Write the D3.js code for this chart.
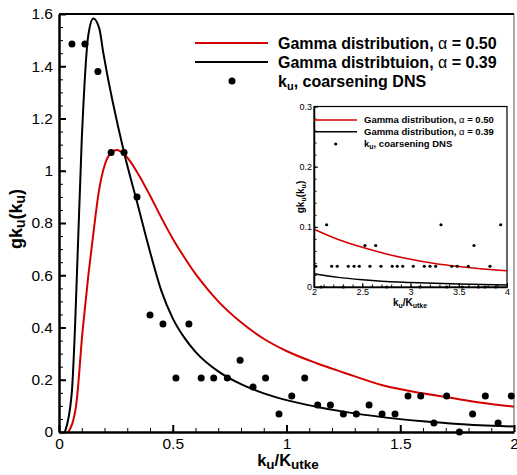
<!DOCTYPE html>
<html>
<head>
<meta charset="utf-8">
<title>gk_u distribution</title>
<script src="https://cdn.jsdelivr.net/npm/d3@7"></script>
<style>
  body { margin: 0; background: #fff; }
  svg { font-family: "Liberation Sans", Arial, sans-serif; }
  .axis path, .axis line { stroke: #000; }
</style>
</head>
<body>
<div id="chart"></div>
<script>
// coarsening DNS histogram, main panel
var dnsX = [0.057, 0.114, 0.171, 0.229, 0.286, 0.343, 0.400, 0.457, 0.514, 0.571,
            0.625, 0.680, 0.740, 0.796, 0.853, 0.908, 0.967, 1.023, 1.080, 1.137,
            1.193, 1.250, 1.307, 1.363, 1.420, 1.477, 1.534, 1.590, 1.648, 1.704,
            1.760, 1.818, 1.874, 1.930, 1.988];
var dnsY = [1.485, 1.485, 1.38, 1.07, 1.07, 0.90, 0.448, 0.413, 0.207, 0.413,
            0.207, 0.207, 0.207, 0.275, 0.172, 0.207, 0.069, 0.138, 0.207, 0.103,
            0.103, 0.069, 0.069, 0.103, 0.069, 0.069, 0.138, 0.138, 0.034, 0.138,
            0, 0.069, 0.138, 0.034, 0.138];

// gamma curves
var redX = [0.041, 0.075, 0.104, 0.129, 0.151, 0.175, 0.202, 0.225, 0.254, 0.29,
            0.35, 0.40, 0.45, 0.50, 0.55, 0.60, 0.65, 0.70, 0.80, 0.90,
            1.0, 1.133, 1.25, 1.426, 1.6, 1.72, 1.85, 2.0];
var redY = [0, 0.10, 0.39, 0.60, 0.76, 0.92, 1.025, 1.065, 1.079, 1.06,
            0.985, 0.905, 0.82, 0.74, 0.67, 0.605, 0.55, 0.50, 0.42, 0.357,
            0.31, 0.263, 0.228, 0.178, 0.148, 0.131, 0.113, 0.097];
var blackX = [0.026, 0.056, 0.07, 0.10, 0.129, 0.151, 0.177, 0.195, 0.286, 0.343,
              0.40, 0.45, 0.50, 0.55, 0.60, 0.70, 0.80, 0.90, 1.0, 1.13,
              1.25, 1.43, 1.6, 1.72, 1.85, 2.0];
var blackY = [0, 0.148, 0.39, 1.12, 1.52, 1.583, 1.545, 1.45, 1.07, 0.88,
              0.69, 0.54, 0.435, 0.362, 0.307, 0.232, 0.183, 0.148, 0.122, 0.097,
              0.078, 0.056, 0.041, 0.033, 0.026, 0.021];

// inset panel (2..4)
var inDnsX = [2.018, 2.073, 2.131, 2.183, 2.241, 2.304, 2.355, 2.415, 2.469, 2.528,
              2.580, 2.639, 2.694, 2.753, 2.811, 2.863, 2.919, 3.029, 3.098, 3.143,
              3.202, 3.261, 3.316, 3.375, 3.427, 3.485, 3.537, 3.599, 3.658, 3.703,
              3.772, 3.824, 3.883, 3.935];
var inDnsY = [0.0345, 0, 0.1035, 0.0345, 0.0345, 0, 0.0345, 0.0345, 0.0345, 0.069,
              0.0345, 0.069, 0.0345, 0, 0.0345, 0.0345, 0.0345, 0.0345, 0, 0.0345,
              0.0345, 0.0345, 0.1035, 0, 0.0345, 0.0345, 0, 0.0345, 0.069, 0,
              0, 0.0345, 0, 0.1035];
var inRedX = [2.0, 2.25, 2.5, 2.75, 3.0, 3.25, 3.5, 3.75, 4.0];
var inRedY = [0.096, 0.079, 0.066, 0.055, 0.046, 0.039, 0.034, 0.030, 0.027];
var inBlackX = [2.0, 2.25, 2.5, 2.75, 3.0, 3.5, 4.0];
var inBlackY = [0.022, 0.016, 0.012, 0.009, 0.0075, 0.005, 0.0035];

var xTicks = [0, 0.5, 1, 1.5, 2];
var yTicks = [0, 0.2, 0.4, 0.6, 0.8, 1, 1.2, 1.4, 1.6];
var inXTicks = [2, 2.5, 3, 3.5, 4];
var inYTicks = [0, 0.1, 0.2, 0.3];

var legendText = ["Gamma distribution, ", "Gamma distribtuion, "];
var legendAlpha = ["0.50", "0.39"];
var inLegendText = ["Gamma distribution, ", "Gamma distribution, "];

var W = 517, H = 475;
var red = "#d40000";

var svg = d3.select("#chart").append("svg")
    .attr("width", W).attr("height", H);

var x = d3.scaleLinear().domain([0, 2]).range([59, 514]);
var y = d3.scaleLinear().domain([0, 1.6]).range([432, 14]);

function pts(xs, ys) { return xs.map(function(v, i) { return [v, ys[i]]; }); }

svg.append("clipPath").attr("id", "clipMain")
  .append("rect").attr("x", 59).attr("y", 14).attr("width", 455).attr("height", 418);

var line = d3.line()
    .x(function(d) { return x(d[0]); })
    .y(function(d) { return y(d[1]); })
    .curve(d3.curveMonotoneX);

var plot = svg.append("g").attr("clip-path", "url(#clipMain)");
plot.append("path").datum(pts(redX, redY))
    .attr("d", line).attr("fill", "none").attr("stroke", red).attr("stroke-width", 2);
plot.append("path").datum(pts(blackX, blackY))
    .attr("d", line).attr("fill", "none").attr("stroke", "#000").attr("stroke-width", 2);

// frame top / right
svg.append("line").attr("x1", 59).attr("x2", 514).attr("y1", 14).attr("y2", 14)
    .attr("stroke", "#000").attr("stroke-width", 2);
svg.append("line").attr("x1", 514).attr("x2", 514).attr("y1", 14).attr("y2", 432)
    .attr("stroke", "#555").attr("stroke-width", 1);

// axes, ticks pointing inwards
var fmt = function(d) { return String(+d.toFixed(2)); };

svg.append("g").attr("class", "axis").attr("transform", "translate(59,0)")
    .call(d3.axisLeft(y).tickValues(d3.range(0, 1.601, 0.05)).tickSize(-4).tickFormat(""))
    .call(function(g) { g.select(".domain").remove(); });
svg.append("g").attr("class", "axis").attr("transform", "translate(0,432)")
    .call(d3.axisBottom(x).tickValues(d3.range(0, 2.001, 0.1)).tickSize(-4).tickFormat(""))
    .call(function(g) { g.select(".domain").remove(); });

var gy = svg.append("g").attr("class", "axis").attr("transform", "translate(59,0)")
    .call(d3.axisLeft(y).tickValues(yTicks).tickSize(-7).tickSizeOuter(0).tickPadding(6).tickFormat(fmt));
var gx = svg.append("g").attr("class", "axis").attr("transform", "translate(0,432)")
    .call(d3.axisBottom(x).tickValues(xTicks).tickSize(-7).tickSizeOuter(0).tickPadding(6).tickFormat(fmt));
[gy, gx].forEach(function(g) {
  g.select(".domain").attr("stroke-width", 2.5);
  g.selectAll(".tick line").attr("stroke-width", 2);
  g.selectAll("text").attr("font-size", 15.5).attr("font-family", "Liberation Sans, Arial, sans-serif").attr("fill", "#000");
});

// DNS dots
svg.append("g").selectAll("circle")
  .data(pts(dnsX, dnsY))
  .enter().append("circle")
    .attr("cx", function(d) { return x(d[0]); })
    .attr("cy", function(d) { return y(d[1]); })
    .attr("r", 3.5)
    .attr("fill", "#000");

// axis titles
var xt = svg.append("text").attr("x", 288).attr("y", 466)
    .attr("text-anchor", "middle").attr("font-weight", "bold").attr("font-size", 16.5);
xt.append("tspan").text("k");
xt.append("tspan").attr("font-size", 13.5).attr("dy", 3).text("u");
xt.append("tspan").attr("dy", -3).text("/K");
xt.append("tspan").attr("font-size", 13.5).attr("dy", 3).text("utke");

var yt = svg.append("text").attr("transform", "translate(22,219) rotate(-90)")
    .attr("text-anchor", "middle").attr("font-weight", "bold").attr("font-size", 18);
yt.append("tspan").text("gk");
yt.append("tspan").attr("font-size", 14).attr("dy", 3).text("u");
yt.append("tspan").attr("dy", -3).text("(k");
yt.append("tspan").attr("font-size", 14).attr("dy", 3).text("u");
yt.append("tspan").attr("dy", -3).text(")");

// main legend
var lg = svg.append("g");
[red, "#000"].forEach(function(c, i) {
  var ly = 43 + i * 19;
  lg.append("line").attr("x1", 195).attr("x2", 268).attr("y1", ly).attr("y2", ly)
      .attr("stroke", c).attr("stroke-width", 2);
  var t = lg.append("text").attr("x", 278).attr("y", ly + 5.5)
      .attr("font-weight", "bold").attr("font-size", 16);
  t.append("tspan").text(legendText[i]);
  t.append("tspan").attr("font-weight", "normal").text("\u03b1");
  t.append("tspan").text(" = " + legendAlpha[i]);
});
lg.append("circle").attr("cx", 232).attr("cy", 81).attr("r", 3.5).attr("fill", "#000");
var lt = lg.append("text").attr("x", 278).attr("y", 86.5).attr("font-weight", "bold").attr("font-size", 16);
lt.append("tspan").text("k");
lt.append("tspan").attr("font-size", 11).attr("dy", 3).text("u");
lt.append("tspan").attr("dy", -3).text(", coarsening DNS");

// ---- inset ----
var ix = d3.scaleLinear().domain([2, 4]).range([314, 507]);
var iy = d3.scaleLinear().domain([0, 0.3]).range([287, 106.5]);
var ins = svg.append("g");

ins.append("rect").attr("x", 314).attr("y", 106.5).attr("width", 193).attr("height", 180.5)
    .attr("fill", "#fff").attr("stroke", "#000").attr("stroke-width", 1.2);

var iline = d3.line()
    .x(function(d) { return ix(d[0]); })
    .y(function(d) { return iy(d[1]); })
    .curve(d3.curveMonotoneX);
ins.append("path").datum(pts(inRedX, inRedY))
    .attr("d", iline).attr("fill", "none").attr("stroke", red).attr("stroke-width", 1.5);
ins.append("path").datum(pts(inBlackX, inBlackY))
    .attr("d", iline).attr("fill", "none").attr("stroke", "#000").attr("stroke-width", 1.5);

ins.append("g").attr("class", "axis").attr("transform", "translate(314,0)")
    .call(d3.axisLeft(iy).tickValues(d3.range(0, 0.301, 0.02)).tickSize(-2.5).tickFormat(""))
    .call(function(g) { g.select(".domain").remove(); });
ins.append("g").attr("class", "axis").attr("transform", "translate(0,287)")
    .call(d3.axisBottom(ix).tickValues(d3.range(2, 4.001, 0.1)).tickSize(-2.5).tickFormat(""))
    .call(function(g) { g.select(".domain").remove(); });
var igy = ins.append("g").attr("class", "axis").attr("transform", "translate(314,0)")
    .call(d3.axisLeft(iy).tickValues(inYTicks).tickSize(-4).tickSizeOuter(0).tickPadding(2).tickFormat(fmt));
var igx = ins.append("g").attr("class", "axis").attr("transform", "translate(0,287)")
    .call(d3.axisBottom(ix).tickValues(inXTicks).tickSize(-4).tickSizeOuter(0).tickPadding(2).tickFormat(fmt));
[igy, igx].forEach(function(g) {
  g.select(".domain").attr("stroke-width", 1.5);
  g.selectAll("text").attr("font-size", 9).attr("font-family", "Liberation Sans, Arial, sans-serif").attr("fill", "#000");
});

ins.append("g").selectAll("circle")
  .data(pts(inDnsX, inDnsY))
  .enter().append("circle")
    .attr("cx", function(d) { return ix(d[0]); })
    .attr("cy", function(d) { return iy(d[1]); })
    .attr("r", 1.6)
    .attr("fill", "#000");

var ixt = ins.append("text").attr("x", 410).attr("y", 306)
    .attr("text-anchor", "middle").attr("font-weight", "bold").attr("font-size", 10);
ixt.append("tspan").text("k");
ixt.append("tspan").attr("font-size", 7).attr("dy", 2).text("u");
ixt.append("tspan").attr("dy", -2).text("/K");
ixt.append("tspan").attr("font-size", 7).attr("dy", 2).text("utke");

var iyt = ins.append("text").attr("transform", "translate(304,197) rotate(-90)")
    .attr("text-anchor", "middle").attr("font-weight", "bold").attr("font-size", 10);
iyt.append("tspan").text("gk");
iyt.append("tspan").attr("font-size", 7).attr("dy", 2).text("u");
iyt.append("tspan").attr("dy", -2).text("(k");
iyt.append("tspan").attr("font-size", 7).attr("dy", 2).text("u");
iyt.append("tspan").attr("dy", -2).text(")");

[red, "#000"].forEach(function(c, i) {
  var ly = 120 + i * 11.7;
  ins.append("line").attr("x1", 314).attr("x2", 357).attr("y1", ly).attr("y2", ly)
      .attr("stroke", c).attr("stroke-width", 1.5);
  var t = ins.append("text").attr("x", 364).attr("y", ly + 3.3)
      .attr("font-weight", "bold").attr("font-size", 9.5);
  t.append("tspan").text(inLegendText[i]);
  t.append("tspan").attr("font-weight", "normal").text("\u03b1");
  t.append("tspan").text(" = " + legendAlpha[i]);
});
ins.append("circle").attr("cx", 335.7).attr("cy", 144).attr("r", 1.6).attr("fill", "#000");
var ilt = ins.append("text").attr("x", 364).attr("y", 147.3).attr("font-weight", "bold").attr("font-size", 9.5);
ilt.append("tspan").text("k");
ilt.append("tspan").attr("font-size", 7).attr("dy", 2).text("u");
ilt.append("tspan").attr("dy", -2).text(", coarsening DNS");
</script>
</body>
</html>
